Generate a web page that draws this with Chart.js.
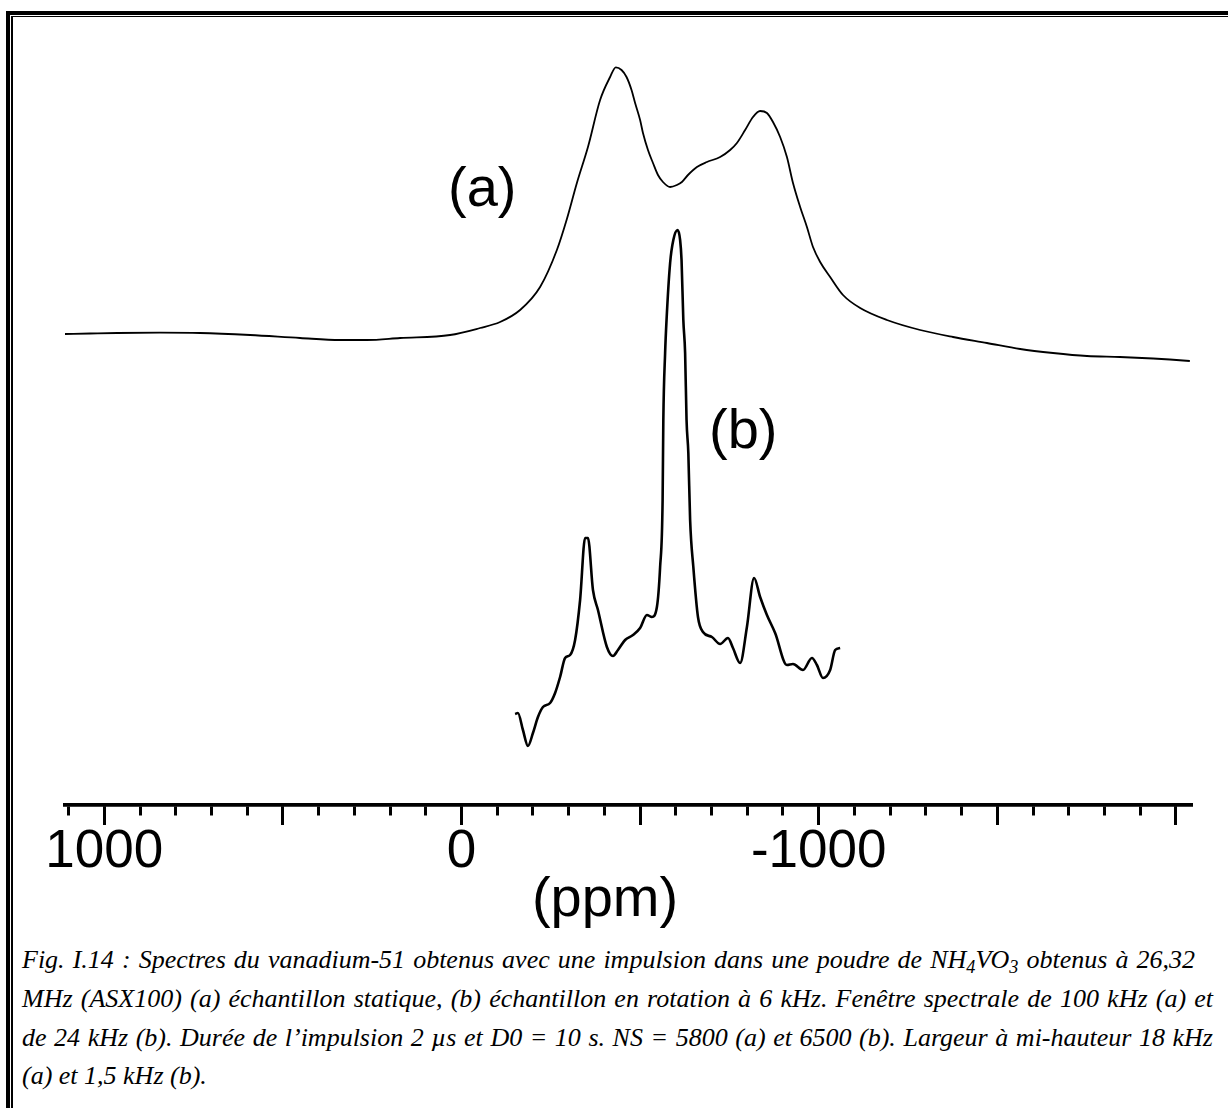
<!DOCTYPE html>
<html>
<head>
<meta charset="utf-8">
<script src="https://cdn.jsdelivr.net/npm/chart.js@4.4.1/dist/chart.umd.min.js"></script>
<style>
  html, body { margin: 0; padding: 0; background: #fff; }
  body { width: 1228px; height: 1108px; position: relative; overflow: hidden; }
  .frameOuter { position: absolute; left: 6px; top: 11px; width: 1400px; height: 1300px;
    border-left: 4px solid #000; border-top: 4px solid #000; }
  .frameInner { position: absolute; left: 11px; top: 16px; width: 1400px; height: 1300px;
    border-left: 2px solid #000; border-top: 1px solid #000; }
  #wrap { position: absolute; left: 0; top: 0; width: 1228px; height: 940px; }
  .cap { position: absolute; left: 22px; font-family: "Liberation Serif", "Times New Roman", serif;
    font-style: italic; font-size: 26px; line-height: 40px; color: #000; white-space: nowrap; }
  .cap.j { text-align: justify; text-align-last: justify; }
  .cap sub { font-size: 0.7em; vertical-align: -0.25em; line-height: 0; }
</style>
</head>
<body>
<div class="frameOuter"></div>
<div class="frameInner"></div>
<div id="wrap"><canvas id="c"></canvas></div>
<div class="cap j" style="top:940px;width:1173px;">Fig. I.14 : Spectres du vanadium-51 obtenus avec une impulsion dans une poudre de NH<sub>4</sub>VO<sub>3</sub> obtenus à 26,32</div>
<div class="cap j" style="top:979px;width:1191px;">MHz (ASX100) (a) échantillon statique, (b) échantillon en rotation à 6 kHz. Fenêtre spectrale de 100 kHz (a) et</div>
<div class="cap j" style="top:1018px;width:1191px;">de 24 kHz (b). Durée de l’impulsion 2 µs et D0 = 10 s. NS = 5800 (a) et 6500 (b). Largeur à mi-hauteur 18 kHz</div>
<div class="cap" style="top:1056px;">(a) et 1,5 kHz (b).</div>
<script>
// ---- data (ppm on x, arbitrary intensity on y) ----
const ppmA = [1110, 1040, 964, 844, 732, 592, 452, 340, 265, 172, 32, -52, -108, -164, -220, -267, -295, -323, -354, -388, -416, -432, -448, -462, -476, -486, -500, -508, -522, -536, -550, -564, -584, -603, -617, -634, -659, -687, -724, -752, -771, -794, -816, -836, -855, -872, -892, -911, -928, -948, -967, -984, -1004, -1032, -1068, -1116, -1191, -1284, -1376, -1471, -1564, -1656, -1751, -1843, -1936, -1983, -2039];
const intA = [471, 471.5, 472, 472.3, 472, 470, 467, 465, 465, 467, 470, 477, 483, 495, 518, 555, 586, 622, 658, 705, 728, 737.7, 735, 728, 715, 702, 685, 672, 655, 642, 630, 623, 618, 620, 623, 630, 638, 643, 648, 655, 662, 675, 688, 694, 692, 683, 668, 648, 622, 598, 578, 558, 543, 528, 510, 497, 485, 475, 468, 462, 456, 452, 449, 448, 446.5, 445.5, 444];

const ppmB = [-150, -158, -172, -186, -200, -214, -228, -248, -262, -276, -290, -304, -318, -332, -346, -354, -368, -382, -407, -424, -438, -458, -480, -500, -519, -533, -547, -556, -563, -565, -570, -574, -584, -593, -605, -612, -616, -621, -626, -630, -635, -640, -649, -662, -676, -701, -724, -746, -760, -780, -799, -819, -836, -855, -878, -911, -928, -956, -981, -995, -1012, -1032, -1046, -1060];
const intB = [91, 92, 75, 59, 72, 88, 98, 102, 112, 128, 147, 150, 165, 205, 267, 267, 215, 195, 158, 149, 155, 165, 170, 177, 190, 188, 198, 238, 305, 385, 452, 485, 542, 565, 575, 565, 545, 485, 452, 385, 352, 285, 238, 188, 173, 168, 161, 167, 157, 142, 178, 227, 208, 190, 172, 140, 141, 135, 147, 140, 127, 135, 155, 157];

const majorTicks = [-2000, -1500, -1000, -500, 0, 500, 1000];
const minorTicks = [-2000, -1900, -1800, -1700, -1600, -1500, -1400, -1300, -1200, -1100, -1000, -900, -800, -700, -600, -500, -400, -300, -200, -100, 0, 100, 200, 300, 400, 500, 600, 700, 800, 900, 1000, 1100];
const tickLabelValues = [1000, 0, -1000];
const tickLabels = ['1000', '0', '-1000'];
const axisTitle = '(ppm)';
const seriesLabels = ['(a)', '(b)'];

// ---- chart ----
const bigFont = '"Liberation Sans", Arial, Helvetica, sans-serif';

const textPlugin = {
  id: 'textPlugin',
  afterDraw(chart) {
    const ctx = chart.ctx;
    ctx.save();
    ctx.fillStyle = '#000';
    ctx.font = '56px ' + bigFont;
    ctx.textBaseline = 'alphabetic';
    ctx.textAlign = 'left';
    ctx.fillText(seriesLabels[0], 448, 206);
    ctx.fillText(seriesLabels[1], 709, 448);
    ctx.textAlign = 'center';
    ctx.fillText(axisTitle, 605, 916);
    ctx.restore();
  }
};

new Chart(document.getElementById('c'), {
  type: 'line',
  data: {
    datasets: [
      { label: seriesLabels[0], data: ppmA.map((x, i) => ({ x, y: intA[i] })),
        borderColor: '#000', borderWidth: 1.8, pointRadius: 0, fill: false, cubicInterpolationMode: 'monotone' },
      { label: seriesLabels[1], data: ppmB.map((x, i) => ({ x, y: intB[i] })),
        borderColor: '#000', borderWidth: 2.6, pointRadius: 0, fill: false, cubicInterpolationMode: 'monotone' }
    ]
  },
  options: {
    responsive: true,
    maintainAspectRatio: false,
    animation: false,
    devicePixelRatio: 1,
    layout: { padding: { left: 65, right: 36, top: 20, bottom: 61 } },
    plugins: { legend: { display: false }, tooltip: { enabled: false } },
    scales: {
      x: {
        type: 'linear', position: 'bottom', reverse: true, min: -2045, max: 1110,
        afterBuildTicks: (s) => { s.ticks = majorTicks.map(v => ({ value: v })); },
        grid: { display: true, drawOnChartArea: false, drawTicks: true, tickLength: 20, tickWidth: 3, tickColor: '#000', color: '#000' },
        border: { display: true, color: '#000', width: 3.5 },
        ticks: {
          autoSkip: false, maxRotation: 0, minRotation: 0, padding: 5, color: '#000',
          font: { family: bigFont, size: 53, lineHeight: '44px' },
          callback: (v) => { const i = tickLabelValues.indexOf(v); return i >= 0 ? tickLabels[i] : ''; }
        }
      },
      x2: {
        type: 'linear', axis: 'x', position: { y: 0 }, reverse: true, min: -2045, max: 1110,
        afterBuildTicks: (s) => { s.ticks = minorTicks.map(v => ({ value: v })); },
        grid: { display: true, drawOnChartArea: false, drawTicks: true, tickLength: 9, tickWidth: 3, tickColor: '#000', color: '#000' },
        border: { display: true, color: '#000', width: 3.5 },
        ticks: { display: false, autoSkip: false }
      },
      y: { type: 'linear', display: false, min: 0, max: 785 }
    }
  },
  plugins: [textPlugin]
});
</script>
</body>
</html>
